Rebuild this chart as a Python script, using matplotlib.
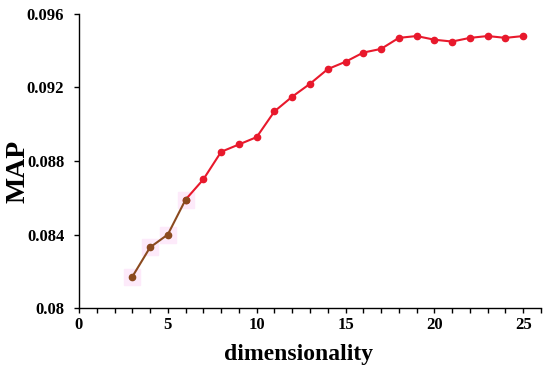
import matplotlib.pyplot as plt
from matplotlib.ticker import MultipleLocator

# MAP vs dimensionality
dims = [3, 4, 5, 6, 7, 8, 9, 10, 11, 12, 13, 14, 15, 16, 17, 18, 19, 20, 21, 22, 23, 24, 25]
map_vals = [0.0817, 0.0833, 0.0840, 0.0859, 0.0870, 0.0885, 0.0889, 0.0893, 0.0907,
            0.0915, 0.0922, 0.0930, 0.0934, 0.0939, 0.0941, 0.0947, 0.0948, 0.0946,
            0.0945, 0.0947, 0.0948, 0.0947, 0.0948]
n_brown = 4  # first few points drawn in brown

plt.rcParams['font.family'] = ['Liberation Serif', 'DejaVu Serif']
plt.rcParams['font.weight'] = 'bold'

fig = plt.figure(figsize=(5.5, 3.68), dpi=100)
ax = fig.add_axes([0.1436, 0.163, 0.84, 0.799])

red = '#e8192c'
brown = '#8b4a1f'

# faint pink halo behind the brown points
ax.plot(dims[:n_brown], map_vals[:n_brown], ls='none', marker='s', ms=12,
        color='#fdeafa', zorder=1)
ax.plot(dims[n_brown - 1:], map_vals[n_brown - 1:], color=red, lw=1.5,
        marker='o', ms=4.5, zorder=2)
ax.plot(dims[:n_brown], map_vals[:n_brown], color=brown, lw=1.5,
        marker='o', ms=4.5, zorder=3)

ax.set_xlim(0, 26)
ax.set_ylim(0.08, 0.096)
ax.xaxis.set_major_locator(MultipleLocator(5))
ax.xaxis.set_minor_locator(MultipleLocator(1))
ax.set_yticks([0.08, 0.084, 0.088, 0.092, 0.096])
ax.set_yticklabels(['0.08', '0.084', '0.088', '0.092', '0.096'])

for s in ['top', 'right']:
    ax.spines[s].set_visible(False)
for s in ['left', 'bottom']:
    ax.spines[s].set_linewidth(1.0)

ax.tick_params(axis='both', which='both', direction='out', length=3.6, width=1,
               labelsize=12)
ax.tick_params(axis='y', pad=7)
ax.tick_params(axis='x', pad=3)

ax.set_xlabel('dimensionality', fontsize=17, fontweight='bold')
ax.xaxis.set_label_coords(0.476, -0.124)
ax.set_ylabel('MAP', fontsize=20, fontweight='bold')
ax.yaxis.set_label_coords(-0.105, 0.465)

fig.savefig('out.png', dpi=100)
